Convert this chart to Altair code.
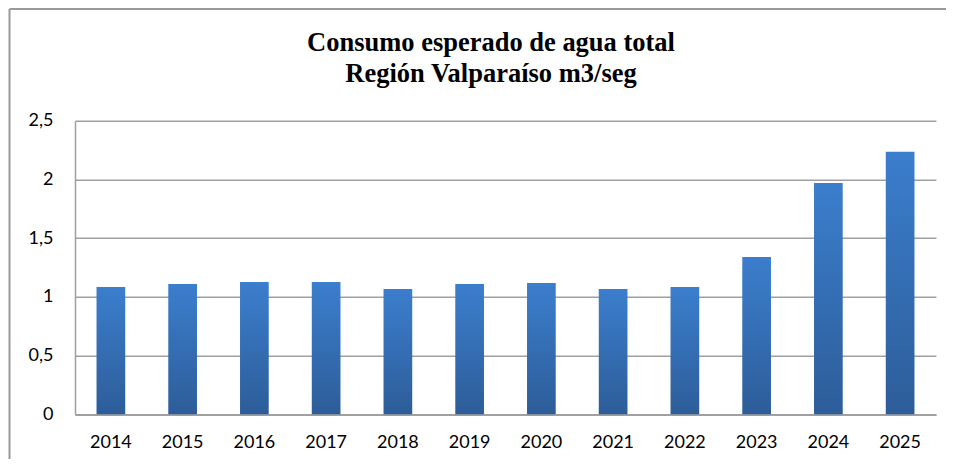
import altair as alt
import pandas as pd

years = ["2014", "2015", "2016", "2017", "2018", "2019",
         "2020", "2021", "2022", "2023", "2024", "2025"]
values = [1.084, 1.11, 1.127, 1.127, 1.067, 1.11,
          1.118, 1.067, 1.084, 1.34, 1.97, 2.235]
y_ticks = [0, 0.5, 1, 1.5, 2, 2.5]
title_lines = ["Consumo esperado de agua total", "Región Valparaíso m3/seg"]

df = pd.DataFrame({"year": years, "value": values})

GRID = "#a0a0a0"
W, H = 861, 293.6

bar_fill = alt.Gradient(
    gradient="linear",
    stops=[alt.GradientStop(color="#3b7ecd", offset=0),
           alt.GradientStop(color="#2d5d99", offset=1)],
    x1=0, x2=0, y1=0, y2=1,
)

bars = alt.Chart(df).mark_bar(color=bar_fill).encode(
    x=alt.X("year:O", sort=years,
            scale=alt.Scale(paddingInner=0.6, paddingOuter=0.3),
            axis=alt.Axis(title=None, labelAngle=0, ticks=False,
                          domainColor=GRID, domainWidth=1.5,
                          labelFont="Lato", labelFontSize=18,
                          labelColor="#000000", labelPadding=19)),
    y=alt.Y("value:Q", scale=alt.Scale(domain=[0, 2.5]),
            axis=alt.Axis(title=None, values=y_ticks, ticks=False,
                          labelExpr="replace(toString(datum.value), '.', ',')",
                          grid=True, gridColor=GRID, gridWidth=1.5,
                          domainColor=GRID, domainWidth=1.5,
                          labelFont="Lato", labelFontSize=18,
                          labelColor="#000000", labelPadding=22)),
)

frame_df = pd.DataFrame({"k": [0]})
frame_left = alt.Chart(frame_df).mark_rule(color="#999999", strokeWidth=2).encode(
    x=alt.value(-65.5), y=alt.value(-111.7), y2=alt.value(400))
frame_top = alt.Chart(frame_df).mark_rule(color="#999999", strokeWidth=2).encode(
    x=alt.value(-65.5), x2=alt.value(900), y=alt.value(-111.7))

title_df = pd.DataFrame({"t": [title_lines]})
title = alt.Chart(title_df).mark_text(
    font="Liberation Serif", fontSize=26.5, fontWeight="bold", color="#000000",
    align="center", baseline="alphabetic", lineHeight=31,
).encode(x=alt.value(416), y=alt.value(-69.5), text="t")

chart = alt.layer(frame_left, frame_top, bars, title).properties(
    width=W, height=H,
    autosize=alt.AutoSizeParams(type="none"),
    padding={"left": 67, "top": 112.7, "right": 10, "bottom": 45},
).configure_view(stroke=None)

chart.save("out.html", embed_options={"renderer": "svg", "actions": False})
